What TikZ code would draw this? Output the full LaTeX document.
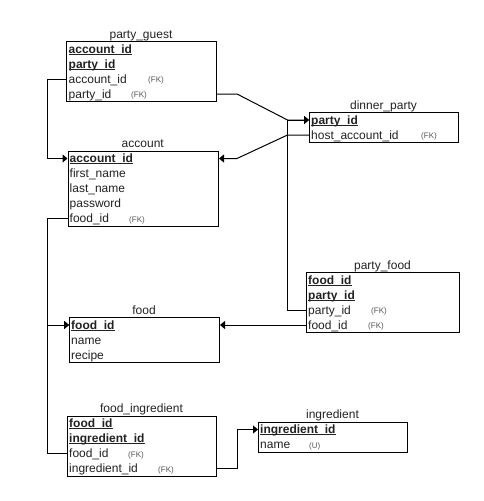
\documentclass[tikz,border=0pt]{standalone}
\usepackage{fontspec}
\setmainfont{Liberation Sans}
\usetikzlibrary{arrows.meta}
\definecolor{txt}{HTML}{222222}
\definecolor{fkgray}{HTML}{555555}
% bold, underlined primary-key field
\newcommand\pkey[1]{\setbox0\hbox{\bfseries #1}\rlap{\rule[-1.8pt]{\wd0}{1pt}}\box0}
\newcommand\fkey{(FK)}
\begin{document}
\begin{tikzpicture}[x=1pt,y=-1pt,
  tbl/.style={draw=black, line width=1pt, anchor=north west, inner sep=0pt,
              minimum width=150pt, fill=white},
  field/.style={anchor=base west, inner sep=0pt, text height=10pt, text depth=2pt,
                font=\fontsize{12}{14}\selectfont, text=txt},
  fklabel/.style={anchor=base west, inner sep=0pt, font=\fontsize{8}{9}\selectfont, text=fkgray},
  title/.style={anchor=base, inner sep=0pt, font=\fontsize{12}{14}\selectfont, text=txt},
  link/.style={line width=1pt, draw=black},
  tip/.style={-{Triangle[length=5pt,width=8pt]}}]
\useasboundingbox (0,0) rectangle (484,501);

% ---------- party_guest ----------
\node[tbl, minimum height=60pt] (pg) at (66,41) {};
\node[title] (pgt) at (141,38) {party\_guest};
\node[field] (pg1) at (68.5,53) {\pkey{account\_id}};
\node[field] (pg2) at (68.5,68) {\pkey{party\_id}};
\node[field] (pg3) at (68.5,83) {account\_id};
\node[field] (pg4) at (68.5,98) {party\_id};
\node[fklabel] (pg3k) at (148,82.5) {\fkey};
\node[fklabel] (pg4k) at (131,97.5) {\fkey};

% ---------- account ----------
\node[tbl, minimum width=150.5pt, minimum height=75pt] (acc) at (67.5,150.5) {};
\node[title] (acct) at (142.75,147.5) {account};
\node[field] (acc1) at (69.5,162.5) {\pkey{account\_id}};
\node[field] (acc2) at (69.5,177.5) {first\_name};
\node[field] (acc3) at (69.5,192.5) {last\_name};
\node[field] (acc4) at (69.5,207.5) {password};
\node[field] (acc5) at (69.5,222.5) {food\_id};
\node[fklabel] (acc5k) at (129,222) {\fkey};

% ---------- dinner_party ----------
\node[tbl, minimum width=149pt, minimum height=30pt] (dp) at (309,112) {};
\node[title] (dpt) at (383.5,109) {dinner\_party};
\node[field] (dp1) at (311,124) {\pkey{party\_id}};
\node[field] (dp2) at (311,139) {host\_account\_id};
\node[fklabel] (dp2k) at (421,138.5) {\fkey};

% ---------- party_food ----------
\node[tbl, minimum width=153pt, minimum height=60pt] (pf) at (306,272) {};
\node[title] (pft) at (382.5,269) {party\_food};
\node[field] (pf1) at (308,284) {\pkey{food\_id}};
\node[field] (pf2) at (308,299) {\pkey{party\_id}};
\node[field] (pf3) at (308,314) {party\_id};
\node[field] (pf4) at (308,329) {food\_id};
\node[fklabel] (pf3k) at (371,313.5) {\fkey};
\node[fklabel] (pf4k) at (368,328.5) {\fkey};

% ---------- food ----------
\node[tbl, minimum height=45pt] (fd) at (69,317) {};
\node[title] (fdt) at (144,314) {food};
\node[field] (fd1) at (71,329) {\pkey{food\_id}};
\node[field] (fd2) at (71,344) {name};
\node[field] (fd3) at (71,359) {recipe};

% ---------- food_ingredient ----------
\node[tbl, minimum width=149pt, minimum height=60pt] (fi) at (67,415.5) {};
\node[title] (fit) at (141.5,412.5) {food\_ingredient};
\node[field] (fi1) at (69,427.5) {\pkey{food\_id}};
\node[field] (fi2) at (69,442.5) {\pkey{ingredient\_id}};
\node[field] (fi3) at (69,457.5) {food\_id};
\node[field] (fi4) at (69,472.5) {ingredient\_id};
\node[fklabel] (fi3k) at (128,457) {\fkey};
\node[fklabel] (fi4k) at (158,472) {\fkey};

% ---------- ingredient ----------
\node[tbl, minimum width=149pt, minimum height=30pt] (ing) at (258,421.5) {};
\node[title] (ingt) at (332.5,418.5) {ingredient};
\node[field] (ing1) at (260,433.5) {\pkey{ingredient\_id}};
\node[field] (ing2) at (260,448.5) {name};
\node[fklabel] (ing2k) at (309,448) {(U)};

% ---------- routing columns ----------
\coordinate (busL) at (47,0);
\coordinate (busR) at (287.5,0);
\coordinate (accR) at ([xshift=18pt]acc.east);
\coordinate (pgR) at ([xshift=20pt]pg.east);
\coordinate (fiR) at ([xshift=20pt]fi.east);

% ---------- foreign-key links ----------
\draw[link,tip] (pg.west |- pg3) -| (busL |- acc1) -- (acc.west |- acc1);
\draw[link,tip] (pg.east |- pg4) -- (pgR |- pg4) -- (busR |- dp1) -- (dp.west |- dp1);
\draw[link,tip] (dp.west |- dp2) -- (busR |- dp2) -- (accR |- acc1) -- (acc.east |- acc1);
\draw[link,tip] (pf.west |- pf3) -| (busR |- dp1) -- (dp.west |- dp1);
\draw[link,tip] (pf.west |- pf4) -- (fd.east |- fd1);
\draw[link,tip] (acc.west |- acc5) -| (busL |- fd1) -- (fd.west |- fd1);
\draw[link,tip] (fi.west |- fi3) -| (busL |- fd1) -- (fd.west |- fd1);
\draw[link,tip] (fi.east |- fi4) -- (fiR |- fi4) |- (ing.west |- ing1);
\end{tikzpicture}
\end{document}
